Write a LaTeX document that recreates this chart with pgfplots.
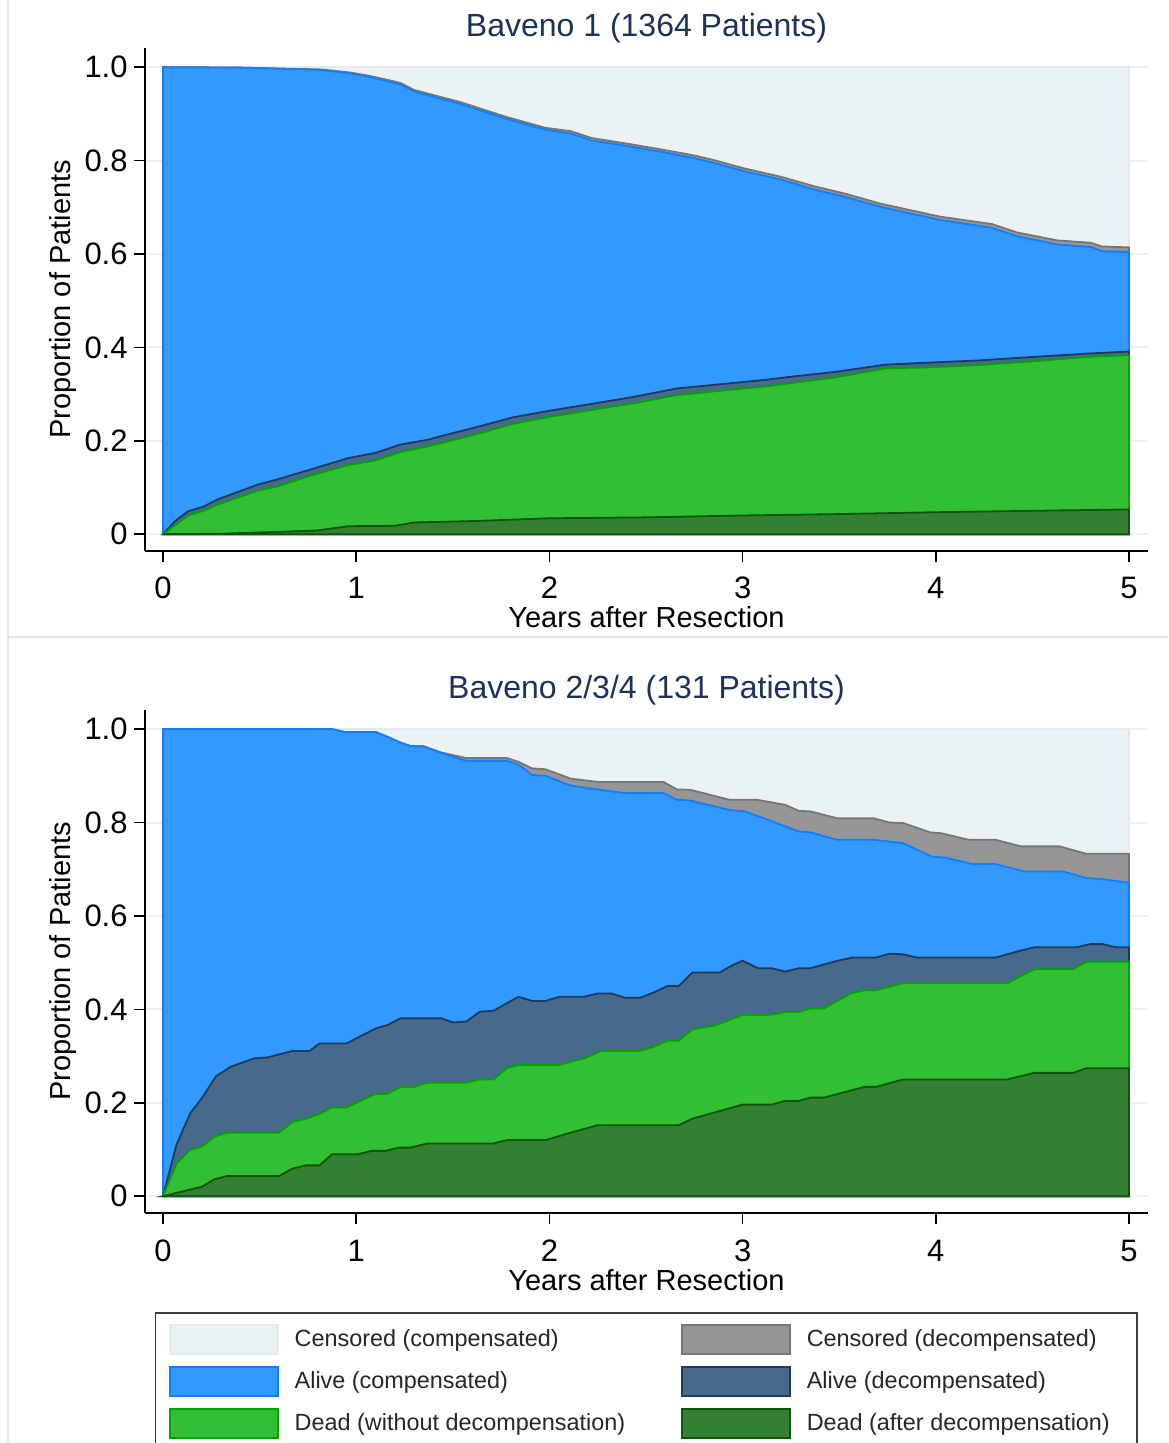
\documentclass[border=0pt]{standalone}
\usepackage{pgfplots}
\pgfplotsset{compat=1.18}
\usepackage{fontspec}
\setmainfont{Liberation Sans}
\definecolor{cenc}{RGB}{234,242,243}
\definecolor{cencl}{RGB}{226,236,238}
\definecolor{cend}{RGB}{150,150,150}
\definecolor{cendl}{RGB}{118,118,118}
\definecolor{alc}{RGB}{51,153,255}
\definecolor{alcl}{RGB}{18,125,255}
\definecolor{ald}{RGB}{71,105,138}
\definecolor{aldl}{RGB}{30,58,90}
\definecolor{dw}{RGB}{51,191,51}
\definecolor{dwl}{RGB}{0,165,0}
\definecolor{da}{RGB}{51,128,51}
\definecolor{dal}{RGB}{12,85,12}
\definecolor{titc}{RGB}{28,50,90}
\definecolor{gridc}{RGB}{234,242,243}
\definecolor{framec}{RGB}{226,234,240}
\definecolor{legc}{RGB}{64,64,64}
\pgfplotsset{
  stata/.style={
    scale only axis, width=501.5pt, height=251.5pt,
    xmin=-0.093, xmax=5.098, ymin=-0.036, ymax=1.041,
    axis x line=bottom, axis y line=left,
    axis line style={-, black, line width=0.75pt},
    every tick/.style={black, line width=0.75pt},
    major tick length=5.5pt, tick align=outside,
    xtick={0,1,2,3,4,5}, xticklabels={0,1,2,3,4,5},
    ytick={0,0.2,0.4,0.6,0.8,1}, yticklabels={0,0.2,0.4,0.6,0.8,1.0},
    ymajorgrids, grid style={gridc, line width=1pt},
    tick label style={font=\fontsize{15.5}{18}\selectfont, text=black},
    xticklabel style={anchor=base, yshift=-18.5pt},
    yticklabel style={anchor=east, inner xsep=0pt, xshift=-3pt},
    title style={at={(0.5,1.0219)}, anchor=base, yshift=-6pt, text=titc, font=\fontsize{16}{19}\selectfont},
    xlabel={Years after Resection}, ylabel={Proportion of Patients},
    xlabel style={at={(0.5,-0.1531)}, anchor=base, font=\fontsize{14.5}{17}\selectfont},
    ylabel style={at={(-0.0738,0.5)}, anchor=base, font=\fontsize{14.5}{17}\selectfont},
  },
  s1/.style={fill=cenc, draw=cencl, line width=0.9pt},
  s2/.style={fill=cend, draw=cendl, line width=0.9pt},
  s3/.style={fill=alc, draw=alcl, line width=0.9pt},
  s4/.style={fill=ald, draw=aldl, line width=0.9pt},
  s5/.style={fill=dw, draw=dwl, line width=0.9pt},
  s6/.style={fill=da, draw=dal, line width=0.9pt},
}
\begin{document}
\begin{tikzpicture}
\useasboundingbox (0pt,0pt) rectangle (584pt,721.5pt);
\draw[framec, line width=1pt] (3.75pt,0pt) -- (3.75pt,721.5pt);
\draw[framec, line width=1pt] (3.75pt,403pt) -- (584pt,403pt);

\begin{axis}[stata, at={(72.5pt,446pt)}, anchor=south west,
  title={Baveno 1 (1364 Patients)}]
\addplot[s1] coordinates {(0,1) (5,1)} \closedcycle;
\addplot[s2] coordinates {(0,1) (0.4,0.999) (0.82,0.995) (0.96,0.989) (1.06,0.982) (1.16,0.973) (1.23,0.966) (1.30,0.951) (1.54,0.925) (1.78,0.893) (1.98,0.870) (2.11,0.863) (2.22,0.848) (2.39,0.837) (2.59,0.823) (2.76,0.810) (2.86,0.800) (3.0,0.784) (3.2,0.765) (3.37,0.745) (3.54,0.728) (3.71,0.708) (4.02,0.680) (4.29,0.664) (4.42,0.646) (4.63,0.629) (4.80,0.624) (4.86,0.616) (5.0,0.614)} \closedcycle;
\addplot[s3] coordinates {(0,1) (0.4,0.999) (0.82,0.994) (0.96,0.987) (1.06,0.980) (1.16,0.970) (1.23,0.963) (1.30,0.948) (1.54,0.921) (1.78,0.889) (1.98,0.866) (2.11,0.858) (2.22,0.843) (2.39,0.832) (2.59,0.818) (2.76,0.804) (2.86,0.794) (3.0,0.778) (3.2,0.759) (3.37,0.738) (3.54,0.721) (3.71,0.701) (4.02,0.673) (4.29,0.656) (4.42,0.638) (4.63,0.620) (4.80,0.615) (4.86,0.606) (5.0,0.604)} \closedcycle;
\addplot[s4] coordinates {(0,0) (0.06,0.027) (0.13,0.049) (0.21,0.059) (0.28,0.074) (0.49,0.106) (0.59,0.117) (0.76,0.138) (0.96,0.163) (1.10,0.174) (1.23,0.192) (1.37,0.202) (1.44,0.210) (1.64,0.231) (1.81,0.250) (2.01,0.265) (2.25,0.281) (2.45,0.295) (2.66,0.312) (2.86,0.320) (3.13,0.331) (3.27,0.338) (3.47,0.347) (3.74,0.363) (3.95,0.367) (4.22,0.372) (4.56,0.381) (4.80,0.387) (5.0,0.391)} \closedcycle;
\addplot[s5] coordinates {(0,0) (0.06,0.018) (0.13,0.040) (0.21,0.050) (0.28,0.063) (0.49,0.093) (0.59,0.102) (0.76,0.125) (0.96,0.148) (1.10,0.158) (1.23,0.176) (1.37,0.188) (1.44,0.195) (1.64,0.216) (1.81,0.236) (2.01,0.252) (2.25,0.268) (2.45,0.281) (2.66,0.298) (2.86,0.306) (3.13,0.317) (3.47,0.335) (3.74,0.355) (3.95,0.357) (4.22,0.362) (4.56,0.372) (4.80,0.380) (5.0,0.383)} \closedcycle;
\addplot[s6] coordinates {(0,0) (0.3,0.001) (0.6,0.005) (0.8,0.008) (0.96,0.017) (1.2,0.018) (1.30,0.025) (1.6,0.028) (2.0,0.034) (2.5,0.036) (3.0,0.040) (3.5,0.043) (4.0,0.047) (4.5,0.050) (5.0,0.053)} \closedcycle;
\end{axis}

\begin{axis}[stata, at={(72.5pt,115pt)}, anchor=south west,
  title={Baveno 2/3/4 (131 Patients)},
  legend columns=2, legend cell align=left,
  legend style={at={(0.00997,-0.19682)}, anchor=north west, draw=legc, line width=0.75pt,
    inner xsep=6.5pt, inner ysep=5.5pt, row sep=5.5pt,
    font=\fontsize{11.7}{14}\selectfont, text=black!85, nodes={inner sep=0pt},
    /tikz/every odd column/.append style={column sep=8pt},
    /tikz/every even column/.append style={column sep=8pt}},
  legend image code/.code={\draw[#1, line width=1pt] (0pt,-7.25pt) rectangle (54pt,7.25pt);}]
\addplot[s1] coordinates {(0,1) (5,1)} \closedcycle;
\addlegendentry{\makebox[185pt][l]{Censored (compensated)}}
\addplot[s2] coordinates {(0,1) (0.876,1) (0.94,0.994) (1.10,0.994) (1.16,0.984) (1.23,0.971) (1.28,0.964) (1.35,0.963) (1.44,0.950) (1.57,0.938) (1.78,0.938) (1.84,0.930) (1.91,0.916) (1.98,0.914) (2.11,0.894) (2.25,0.887) (2.59,0.887) (2.66,0.871) (2.73,0.870) (2.93,0.849) (3.07,0.849) (3.22,0.838) (3.29,0.825) (3.35,0.824) (3.49,0.809) (3.68,0.809) (3.76,0.800) (3.83,0.799) (3.97,0.779) (4.03,0.777) (4.17,0.763) (4.31,0.763) (4.44,0.749) (4.64,0.749) (4.78,0.733) (5.0,0.733)} \closedcycle;
\addlegendentry{\makebox[158.5pt][l]{Censored (decompensated)}}
\addplot[s3] coordinates {(0,1) (0.876,1) (0.94,0.994) (1.10,0.994) (1.16,0.984) (1.23,0.971) (1.28,0.964) (1.35,0.963) (1.44,0.949) (1.57,0.932) (1.78,0.932) (1.84,0.924) (1.91,0.902) (1.98,0.900) (2.11,0.879) (2.25,0.871) (2.39,0.863) (2.59,0.863) (2.66,0.849) (2.73,0.847) (2.93,0.827) (3.01,0.824) (3.13,0.806) (3.29,0.781) (3.35,0.779) (3.49,0.763) (3.68,0.763) (3.83,0.756) (3.98,0.727) (4.05,0.725) (4.19,0.711) (4.31,0.711) (4.46,0.695) (4.66,0.695) (4.78,0.681) (4.86,0.679) (5.0,0.671)} \closedcycle;
\addlegendentry{\makebox[185pt][l]{Alive (compensated)}}
\addplot[s4] coordinates {(0,0) (0.07,0.110) (0.14,0.177) (0.20,0.209) (0.275,0.257) (0.35,0.277) (0.47,0.295) (0.54,0.297) (0.67,0.311) (0.76,0.311) (0.81,0.327) (0.95,0.327) (1.10,0.359) (1.16,0.366) (1.23,0.381) (1.44,0.381) (1.50,0.372) (1.57,0.374) (1.64,0.395) (1.71,0.397) (1.84,0.427) (1.91,0.418) (1.98,0.418) (2.05,0.427) (2.18,0.427) (2.25,0.434) (2.32,0.434) (2.39,0.425) (2.47,0.425) (2.54,0.436) (2.61,0.450) (2.67,0.450) (2.74,0.479) (2.88,0.479) (2.95,0.495) (3.00,0.504) (3.08,0.488) (3.15,0.488) (3.22,0.481) (3.29,0.488) (3.35,0.488) (3.49,0.504) (3.57,0.511) (3.69,0.511) (3.76,0.519) (3.83,0.518) (3.90,0.511) (4.31,0.511) (4.44,0.526) (4.51,0.533) (4.73,0.533) (4.80,0.540) (4.86,0.540) (4.93,0.533) (5.0,0.533)} \closedcycle;
\addlegendentry{\makebox[158.5pt][l]{Alive (decompensated)}}
\addplot[s5] coordinates {(0,0) (0.07,0.070) (0.14,0.099) (0.20,0.106) (0.265,0.127) (0.33,0.136) (0.60,0.136) (0.67,0.159) (0.74,0.166) (0.81,0.176) (0.876,0.190) (0.95,0.190) (1.10,0.219) (1.16,0.219) (1.23,0.234) (1.30,0.234) (1.37,0.243) (1.57,0.243) (1.64,0.250) (1.71,0.250) (1.78,0.274) (1.84,0.281) (2.05,0.281) (2.11,0.288) (2.18,0.295) (2.27,0.311) (2.47,0.311) (2.54,0.320) (2.61,0.333) (2.67,0.333) (2.74,0.357) (2.86,0.366) (3.00,0.388) (3.15,0.388) (3.22,0.394) (3.29,0.394) (3.35,0.402) (3.42,0.402) (3.56,0.434) (3.63,0.441) (3.69,0.441) (3.83,0.456) (4.37,0.456) (4.51,0.486) (4.71,0.486) (4.78,0.502) (5.0,0.502)} \closedcycle;
\addlegendentry{\makebox[185pt][l]{Dead (without decompensation)}}
\addplot[s6] coordinates {(0,0) (0.20,0.020) (0.265,0.036) (0.33,0.043) (0.60,0.043) (0.67,0.059) (0.74,0.066) (0.81,0.066) (0.876,0.090) (1.01,0.090) (1.08,0.097) (1.15,0.097) (1.22,0.104) (1.28,0.104) (1.37,0.113) (1.71,0.113) (1.78,0.120) (1.98,0.120) (2.11,0.136) (2.25,0.152) (2.67,0.152) (2.74,0.166) (3.00,0.196) (3.15,0.196) (3.22,0.204) (3.29,0.204) (3.35,0.211) (3.42,0.211) (3.63,0.234) (3.69,0.234) (3.83,0.250) (4.37,0.250) (4.51,0.264) (4.71,0.264) (4.78,0.274) (5.0,0.274)} \closedcycle;
\addlegendentry{\makebox[158.5pt][l]{Dead (after decompensation)}}
\end{axis}
\end{tikzpicture}
\end{document}
